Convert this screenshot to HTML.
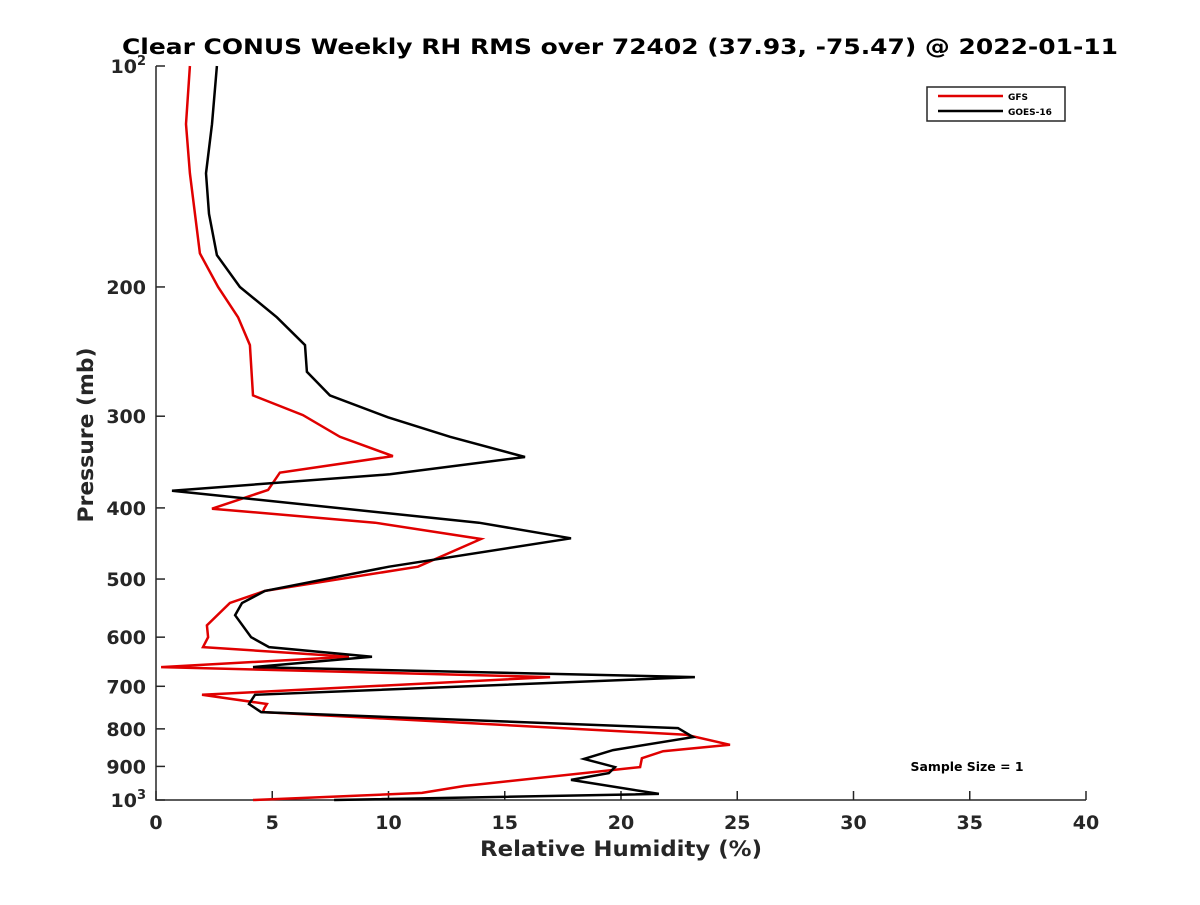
<!DOCTYPE html>
<html><head><meta charset="utf-8"><style>
body{margin:0;background:#fff;}
svg text{font-family:"DejaVu Sans","Liberation Sans",sans-serif;font-weight:bold;fill:#262626;}
</style></head><body>
<svg id="chart" width="1200" height="900" xmlns="http://www.w3.org/2000/svg">
<rect width="1200" height="900" fill="#fff"/>
<text x="620" y="54" font-size="21" text-anchor="middle" textLength="996" lengthAdjust="spacingAndGlyphs" style="fill:#000">Clear CONUS Weekly RH RMS over 72402 (37.93, -75.47) @ 2022-01-11</text>
<g id="axes"></g>
<g id="series"></g>
<text x="621" y="856" font-size="21" text-anchor="middle" textLength="282" lengthAdjust="spacingAndGlyphs">Relative Humidity (%)</text>
<text transform="translate(93,435) rotate(-90)" font-size="21" text-anchor="middle" textLength="175" lengthAdjust="spacingAndGlyphs">Pressure (mb)</text>
<text x="967" y="771" font-size="12" text-anchor="middle" textLength="113" lengthAdjust="spacingAndGlyphs" style="fill:#000">Sample Size = 1</text>
<g>
<rect x="927" y="87" width="138" height="34" fill="#fff" stroke="#262626" stroke-width="1.5"/>
<line x1="938" y1="96" x2="1003" y2="96" stroke="#e00000" stroke-width="2.5"/>
<text x="1008" y="100" font-size="9" style="fill:#000">GFS</text>
<line x1="938" y1="111" x2="1003" y2="111" stroke="#000" stroke-width="2.5"/>
<text x="1008" y="115" font-size="9" style="fill:#000">GOES-16</text>
</g>
</svg>
<script>
const xTicks=[0,5,10,15,20,25,30,35,40];
const yTicks=[100,200,300,400,500,600,700,800,900,1000];
const yTickLabels=["10^2","200","300","400","500","600","700","800","900","10^3"];
const gfsPressure=[100,120,140,180,200,220,240,281,299,320,340,358,378,401,419,441,481,519,539,578,600,619,638,659,680,719,740,751,759,815,841,858,877,902,957,978,1000];
const gfsRH=[1.46,1.29,1.46,1.89,2.67,3.53,4.04,4.17,6.32,7.91,10.19,5.33,4.82,2.41,9.42,13.98,11.27,4.69,3.18,2.19,2.24,2.02,8.3,0.22,16.95,1.98,4.77,4.65,4.6,22.8,24.69,21.81,20.9,20.82,13.25,11.44,4.17];
const goesPressure=[100,120,140,159,181,200,220,240,261,281,301,320,341,360,379,419,440,481,519,539,560,600,619,638,659,680,719,740,759,798,821,855,879,902,919,939,981,1000];
const goesRH=[2.62,2.41,2.15,2.28,2.62,3.61,5.2,6.41,6.49,7.48,9.98,12.65,15.87,10.06,0.69,13.89,17.85,10.02,4.69,3.7,3.4,4.09,4.86,9.29,4.17,23.18,4.26,4.0,4.52,22.45,23.1,19.66,18.41,19.74,19.48,17.85,21.63,7.66];
const X0=156,X1=1086,Y0=66,Y1=800;
const xs=v=>X0+(v-0)/40*(X1-X0);
const ys=p=>Y0+(Math.log10(p)-2)*(Y1-Y0);
const NS="http://www.w3.org/2000/svg";
const axes=document.getElementById('axes'),series=document.getElementById('series');
function mk(t,a,parent){const e=document.createElementNS(NS,t);for(const k in a)e.setAttribute(k,a[k]);parent.appendChild(e);return e;}
const ax=mk('path',{d:`M${X0},${Y0}V${Y1}H${X1}`,fill:'none',stroke:'#262626','stroke-width':1.5},axes);


xTicks.forEach(v=>{
  const t=mk('line',{x1:xs(v),x2:xs(v),y1:Y1,y2:Y1-9,stroke:'#262626','stroke-width':1.5},axes);
  
  
  const l=mk('text',{x:xs(v),y:Y1+29,'font-size':19,'text-anchor':'middle'},axes);
  l.textContent=v;
  
  
});
yTicks.forEach((p,i)=>{
  const t=mk('line',{x1:X0,x2:X0+9,y1:ys(p),y2:ys(p),stroke:'#262626','stroke-width':1.5},axes);
  
  
  const lab=yTickLabels[i];
  const l=mk('text',{x:X0-10,y:ys(p)+7,'font-size':19,'text-anchor':'end'},axes);
  
  
  if(lab.includes('^')){
    const [b,e]=lab.split('^');
    l.textContent=b;
    const s=mk('tspan',{dy:-8,'font-size':13},l);
    s.textContent=e;
  } else l.textContent=lab;
});
function line(P,R,color,name){
  const d=P.map((p,i)=>(i?'L':'M')+xs(R[i]).toFixed(1)+','+ys(p).toFixed(1)).join('');
  const e=mk('path',{d:d,fill:'none',stroke:color,'stroke-width':2.5,'stroke-linejoin':'miter'},series);
  
  
}
line(gfsPressure,gfsRH,'#e00000','gfs-line');
line(goesPressure,goesRH,'#000','goes16-line');
</script>
</body></html>
